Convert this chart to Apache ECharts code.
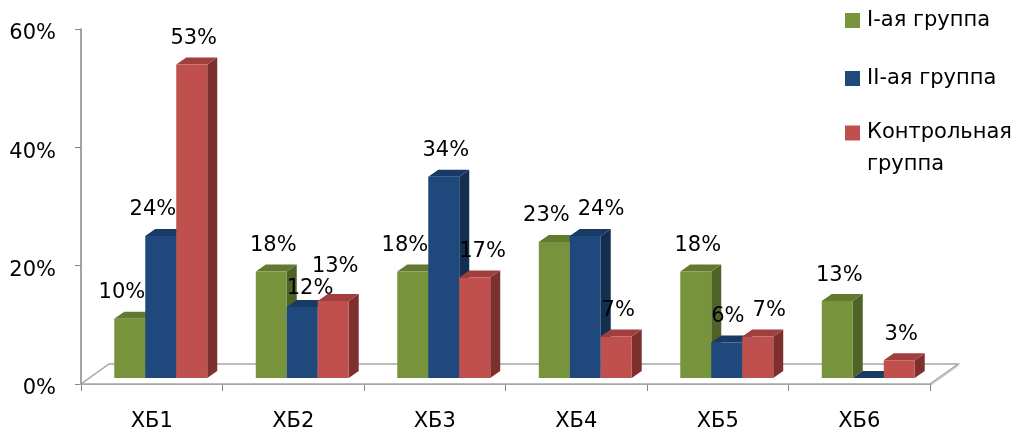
<!DOCTYPE html>
<html>
<head>
<meta charset="utf-8">
<script src="https://cdn.jsdelivr.net/npm/echarts@6/dist/echarts.min.js"></script>
<style>html,body{margin:0;padding:0;background:#fff;}#c{width:1016px;height:432px;}</style>
</head>
<body>
<div id="c"></div>
<script>
const categories = ['ХБ1', 'ХБ2', 'ХБ3', 'ХБ4', 'ХБ5', 'ХБ6'];
const seriesNames = ['I-ая группа', 'II-ая группа', 'Контрольная группа'];
const group1 = [10, 18, 18, 23, 18, 13];
const group2 = [24, 12, 34, 24, 6, 0];
const control = [53, 13, 17, 7, 7, 3];
const yTickValues = [0, 20, 40, 60];

const FONT = '"DejaVu Sans", sans-serif';
const FS = 21;
const front = ['#77933C', '#1F497D', '#C0504D'];
const topC = ['#617A30', '#183A64', '#A03F3D'];
const sideC = ['#4F6228', '#132E4F', '#7D302E'];
const BAR_FRAC = 0.219, OFF_X = 9, OFF_Y = -6, DEP_X = 10, DEP_Y = -7;
const FLOOR_X = 28, FLOOR_Y = -20;
const allValues = [group1, group2, control];

const measureCtx = document.createElement('canvas').getContext('2d');
measureCtx.font = FS + 'px ' + FONT;
function textWidth(s) { return measureCtx.measureText(s).width; }

function barGeom(api, ci, k, v) {
  const base = api.coord([ci, 0]);
  const top = api.coord([ci, v]);
  const band = api.size([1, 0])[0];
  const w = band * BAR_FRAC;
  const x0 = base[0] - 1.5 * w + k * w + OFF_X;
  return { x0: x0, w: w, yb: base[1] + OFF_Y, yt: top[1] + OFF_Y };
}

function barRender(k) {
  return function (params, api) {
    const g = barGeom(api, api.value(0), k, api.value(1));
    const x0 = g.x0, x1 = g.x0 + g.w, yt = g.yt, yb = g.yb;
    return {
      type: 'group',
      children: [
        { type: 'polygon', shape: { points: [[x1, yt], [x1 + DEP_X, yt + DEP_Y], [x1 + DEP_X, yb + DEP_Y], [x1, yb]] }, style: { fill: sideC[k] } },
        { type: 'polygon', shape: { points: [[x0, yt], [x1, yt], [x1 + DEP_X, yt + DEP_Y], [x0 + DEP_X, yt + DEP_Y]] }, style: { fill: topC[k] } },
        { type: 'rect', shape: { x: x0, y: yt, width: g.w, height: yb - yt }, style: { fill: front[k] } }
      ]
    };
  };
}

// simple label layout: keep labels off taller neighbouring bars and off each other
function layoutCategory(api, ci) {
  const vals = allValues.map(function (a) { return a[ci]; });
  const geoms = vals.map(function (v, k) { return barGeom(api, ci, k, v); });
  const H = 20, GAP = 8;
  const labels = vals.map(function (v, k) {
    const g = geoms[k];
    return { v: v, w: textWidth(v + '%'), cx: g.x0 + g.w / 2 + 2, cy: g.yt - 26 };
  });
  labels.forEach(function (L, k) {
    if (!L.v) return;
    const bottom = L.cy + 26;
    if (k + 1 < 3 && vals[k + 1] > L.v && geoms[k + 1].yt < bottom) L.cx = Math.min(L.cx, geoms[k + 1].x0 - L.w / 2);
    if (k - 1 >= 0 && vals[k - 1] > L.v && geoms[k - 1].yt < bottom) L.cx = Math.max(L.cx, geoms[k - 1].x0 + geoms[k - 1].w + L.w / 2);
  });
  for (let k = 1; k < 3; k++) {
    const A = labels[k - 1], B = labels[k];
    if (!A.v || !B.v) continue;
    if (Math.abs(A.cy - B.cy) < H) {
      const minC = A.cx + A.w / 2 + B.w / 2 + GAP;
      const need = minC - B.cx;
      if (need <= 0) continue;
      if (need < 20) {
        B.cx = minC;
      } else {
        const mid = (A.cy + B.cy) / 2;
        const upper = A.v >= B.v ? A : B, lower = upper === A ? B : A;
        upper.cy = mid - H / 2 - 1;
        lower.cy = mid + H / 2 + 1;
      }
    }
  }
  return labels;
}

function labelRender(params, api) {
  const ci = api.value(0), k = api.value(1), v = api.value(2);
  if (!v) return null;
  const L = layoutCategory(api, ci)[k];
  return {
    type: 'text',
    style: { text: v + '%', x: L.cx, y: L.cy, textAlign: 'center', textVerticalAlign: 'middle', fill: '#000', font: FS + 'px ' + FONT }
  };
}

function floorRender(params, api) {
  const band = api.size([1, 0])[0];
  const p0 = api.coord([0, 0]);
  const left = p0[0] - band / 2;
  const right = left + band * categories.length;
  const y0 = p0[1];
  return {
    type: 'group',
    children: [
      { type: 'polyline', shape: { points: [[right + 1, y0 + 1], [right + FLOOR_X + 1, y0 + FLOOR_Y + 1]] }, style: { stroke: '#D0D0D0', lineWidth: 1.5, fill: null } },
      { type: 'polygon', shape: { points: [[left, y0], [right, y0], [right + FLOOR_X, y0 + FLOOR_Y], [left + FLOOR_X, y0 + FLOOR_Y]] }, style: { fill: '#fff', stroke: '#A6A6A6', lineWidth: 1.5 } }
    ]
  };
}

const labelData = [];
allValues.forEach(function (arr, k) { arr.forEach(function (v, ci) { labelData.push([ci, k, v]); }); });

const chart = echarts.init(document.getElementById('c'), null, { renderer: 'canvas' });
const legendBase = { orient: 'vertical', left: 845, padding: 0, itemWidth: 15, itemHeight: 15, icon: 'rect', selectedMode: false,
  textStyle: { fontFamily: FONT, fontSize: FS, color: '#000', lineHeight: 21, padding: [0, 0, 0, 2] } };
chart.setOption({
  animation: false,
  backgroundColor: '#fff',
  grid: { left: 81, right: 86, top: 29, bottom: 47 },
  legend: [
    Object.assign({}, legendBase, { top: 10, data: [seriesNames[0]] }),
    Object.assign({}, legendBase, { top: 68, data: [seriesNames[1]] }),
    Object.assign({}, legendBase, { top: 85, data: [seriesNames[2]],
      formatter: function (n) { const p = n.split(' '); return '{e| }\n{a|' + p[0] + '}\n{a|' + p[1] + '}'; },
      textStyle: { fontFamily: FONT, fontSize: FS, color: '#000', padding: [0, 0, 0, 2],
        rich: { e: { fontSize: FS, lineHeight: 32, height: 32 }, a: { fontFamily: FONT, fontSize: FS, color: '#000', lineHeight: 32 } } } })
  ],
  xAxis: {
    type: 'category', data: categories,
    axisLine: { lineStyle: { color: '#868686', width: 1.5 } },
    axisTick: { show: true, length: 7, lineStyle: { color: '#868686' } },
    axisLabel: { fontFamily: FONT, fontSize: FS, color: '#000', margin: 27 }
  },
  yAxis: {
    type: 'value', min: yTickValues[0], max: yTickValues[yTickValues.length - 1], interval: 20,
    axisLine: { show: true, lineStyle: { color: '#868686', width: 1.5 } },
    axisTick: { show: true, length: 6, lineStyle: { color: '#868686' } },
    splitLine: { show: false },
    axisLabel: { formatter: '{value}%', fontFamily: FONT, fontSize: FS, color: '#000', margin: 25, verticalAlign: 'top', lineHeight: 10 }
  },
  series: [
    { type: 'custom', name: 'floor', z: 1, clip: false, silent: true, renderItem: floorRender, data: [[0]] },
    { type: 'custom', name: seriesNames[0], z: 2, clip: false, itemStyle: { color: front[0] }, renderItem: barRender(0), data: group1.map(function (v, i) { return [i, v]; }) },
    { type: 'custom', name: seriesNames[1], z: 2, clip: false, itemStyle: { color: front[1] }, renderItem: barRender(1), data: group2.map(function (v, i) { return [i, v]; }) },
    { type: 'custom', name: seriesNames[2], z: 2, clip: false, itemStyle: { color: front[2] }, renderItem: barRender(2), data: control.map(function (v, i) { return [i, v]; }) },
    { type: 'custom', name: 'labels', z: 3, clip: false, silent: true, renderItem: labelRender, data: labelData }
  ]
});
</script>
</body>
</html>
